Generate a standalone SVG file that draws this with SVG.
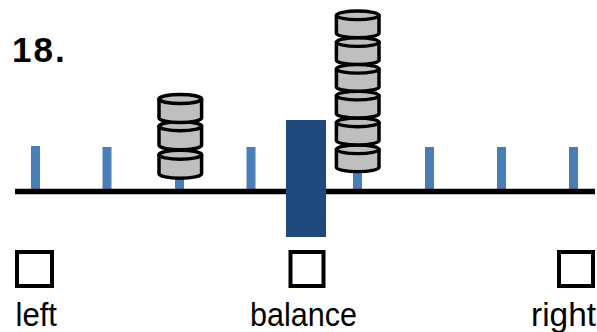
<svg xmlns="http://www.w3.org/2000/svg" width="597" height="332" viewBox="0 0 597 332">
  <defs>
    <style>
      .tick { fill: #4A7EBB; }
      .beam { stroke: #000; stroke-width: 5.5; }
      .pivot { fill: #1F497D; }
      .disk { fill: #BFBFBF; stroke: #000; stroke-width: 3.5; stroke-linejoin: round; }
      .box { fill: #fff; stroke: #000; stroke-width: 4; }
      .lbl { font-family: "Liberation Sans", Arial, sans-serif; font-size: 34px; fill: #000; }
      .num { font-family: "Liberation Sans", Arial, sans-serif; font-size: 35px; font-weight: bold; fill: #000; }
    </style>
    <!-- one weight: centred at x=0, top ellipse at y=0, height 28 -->
    <g id="weight">
      <path class="disk" d="M -21.3 4.5 L -21.3 23.5 A 21.3 4.5 0 0 0 21.3 23.5 L 21.3 4.5 Z"/>
      <ellipse class="disk" cx="0" cy="4.5" rx="21.3" ry="4.5"/>
    </g>
  </defs>

  <text class="num" x="12" y="62" letter-spacing="2">18.</text>

  <!-- scale ticks -->
  <g id="ticks">
    <rect class="tick" x="31" y="146" width="9" height="44"/>
    <rect class="tick" x="102.5" y="147" width="9" height="43"/>
    <rect class="tick" x="175" y="147" width="9" height="43"/>
    <rect class="tick" x="246.5" y="147" width="9" height="43"/>
    <rect class="tick" x="353" y="147" width="9" height="43"/>
    <rect class="tick" x="425" y="147" width="9" height="43"/>
    <rect class="tick" x="497" y="147" width="9" height="43"/>
    <rect class="tick" x="569" y="147" width="9" height="43"/>
  </g>

  <!-- beam -->
  <g id="connectors">
    <line class="beam" x1="15" y1="191.5" x2="595" y2="191.5"/>
  </g>

  <g id="pivot">
    <rect class="pivot" x="286" y="120" width="40" height="117"/>
  </g>

  <!-- left stack: 3 weights -->
  <g id="stack-left">
    <use href="#weight" transform="translate(180.3 150.2)"/>
    <use href="#weight" transform="translate(180.3 121.7)"/>
    <use href="#weight" transform="translate(180.3 94.5)"/>
  </g>

  <!-- right stack: 6 weights -->
  <g id="stack-right">
    <use href="#weight" transform="translate(357.7 145) scale(1 0.95)"/>
    <use href="#weight" transform="translate(357.7 118.2) scale(1 0.95)"/>
    <use href="#weight" transform="translate(357.7 91.4) scale(1 0.95)"/>
    <use href="#weight" transform="translate(357.7 64.6) scale(1 0.95)"/>
    <use href="#weight" transform="translate(357.7 37.8) scale(1 0.95)"/>
    <use href="#weight" transform="translate(357.7 11) scale(1 0.95)"/>
  </g>

  <!-- answer choices -->
  <g id="choice-left">
    <rect class="box" x="17" y="252" width="35" height="34"/>
    <text class="lbl" x="15.5" y="326" textLength="41.5" lengthAdjust="spacingAndGlyphs">left</text>
  </g>
  <g id="choice-balance">
    <rect class="box" x="290.5" y="252" width="33" height="34"/>
    <text class="lbl" x="250" y="326" textLength="107" lengthAdjust="spacingAndGlyphs">balance</text>
  </g>
  <g id="choice-right">
    <rect class="box" x="559" y="252" width="34" height="34"/>
    <text class="lbl" x="531" y="326" textLength="65" lengthAdjust="spacingAndGlyphs">right</text>
  </g>
</svg>
